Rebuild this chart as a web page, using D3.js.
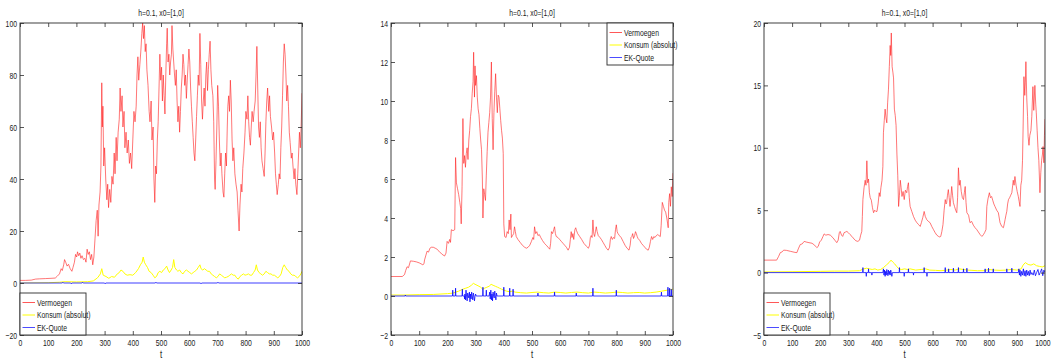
<!DOCTYPE html>
<html>
<head>
<meta charset="utf-8">
<script src="https://cdn.jsdelivr.net/npm/d3@7/dist/d3.min.js"></script>
<style>
  html, body { margin: 0; padding: 0; background: #fff; }
  svg { display: block; }
  text { font-family: "Liberation Sans", Arial, sans-serif; fill: #1a1a1a; }
</style>
</head>
<body>
<svg id="chart" width="1051" height="360"></svg>
<script>
// ---- data: [t, value] samples for each simulation run ----
const tickLabelsT = [0, 100, 200, 300, 400, 500, 600, 700, 800, 900, 1000];
const yTicks1 = [-20, 0, 20, 40, 60, 80, 100];
const yTicks2 = [-2, 0, 2, 4, 6, 8, 10, 12, 14];
const yTicks3 = [-5, 0, 5, 10, 15, 20];
const seriesNames = ["Vermoegen", "Konsum (absolut)", "EK-Quote"];
const titleText = "h=0.1, x0=[1,0]";

const wealth1 = [[0,1],[20,1],[40,1.1],[55,1.5],[70,1.6],[90,1.7],[110,1.8],[125,1.9],[132,2.6],[140,3.5],[146,5.5],[150,4.8],[155,7],[158,9],[162,8],[167,6.5],[172,7.2],[178,5.5],[184,4.5],[188,6],[193,8],[197,11],[201,10],[204,12],[208,10.5],[212,11.5],[216,9.5],[220,10.5],[225,9],[230,9.5],[234,8],[238,13],[242,11],[246,12],[250,9],[254,11],[258,7],[262,10],[266,17],[270,24],[274,28],[277,18],[280,30],[284,35],[287,45],[290,77],[292,60],[294,68],[297,45],[300,52],[304,40],[308,32],[311,38],[314,29],[318,36],[322,31],[326,41],[330,38],[334,50],[337,42],[341,56],[344,47],[348,58],[352,63],[355,75],[358,66],[362,72],[365,60],[369,66],[372,52],[376,58],[380,50],[384,55],[388,46],[392,50],[396,44],[400,55],[404,66],[408,62],[412,68],[415,80],[418,87],[421,78],[425,84],[429,90],[432,96],[435,100],[438,94],[441,99],[444,89],[447,92],[450,82],[454,76],[458,66],[461,62],[465,70],[468,55],[472,60],[475,40],[478,31],[481,45],[484,42],[487,55],[490,62],[493,75],[496,88],[499,78],[502,83],[505,70],[508,80],[511,72],[514,65],[517,80],[520,92],[522,98],[525,85],[528,88],[531,80],[534,85],[537,88],[539,99],[542,90],[545,85],[548,80],[551,76],[554,82],[557,70],[560,62],[563,68],[566,58],[569,66],[572,75],[575,80],[578,88],[581,84],[584,76],[587,80],[590,71],[593,78],[596,84],[599,90],[602,85],[605,75],[608,68],[611,62],[614,56],[617,50],[620,47],[623,55],[626,64],[629,72],[632,80],[635,76],[638,96],[641,84],[644,70],[647,63],[650,70],[653,75],[656,68],[659,80],[662,85],[665,74],[668,82],[671,88],[674,93],[677,82],[680,76],[684,72],[687,62],[690,40],[692,36],[695,47],[698,60],[701,76],[704,68],[707,55],[710,45],[713,50],[716,42],[720,35],[723,33],[726,42],[729,50],[732,45],[735,60],[737,68],[740,72],[743,66],[746,78],[749,70],[752,55],[755,47],[758,52],[762,42],[766,38],[770,35],[773,28],[777,20],[780,30],[784,38],[787,35],[790,44],[794,50],[798,58],[801,66],[805,63],[808,72],[811,62],[814,56],[817,53],[820,60],[823,66],[827,62],[830,66],[834,70],[837,80],[840,91],[843,75],[846,60],[849,56],[852,62],[855,52],[858,47],[862,44],[866,41],[869,50],[872,62],[875,70],[878,75],[882,66],[885,72],[888,64],[892,60],[896,55],[899,58],[903,50],[906,42],[909,38],[912,34],[916,38],[919,42],[922,40],[925,52],[928,60],[931,72],[934,85],[937,92],[940,88],[943,80],[946,70],[949,76],[952,68],[955,58],[958,54],[962,48],[965,50],[968,45],[972,40],[975,44],[978,38],[982,34],[985,42],[988,50],[991,58],[994,52],[997,60],[1000,73]];

const consumption1 = [[0,0],[100,0.1],[140,0.3],[160,0.5],[200,0.4],[240,0.5],[260,0.8],[275,2],[285,3.5],[290,5.5],[295,3],[305,2.5],[315,1.8],[325,2.5],[335,2.2],[345,3.5],[352,4],[358,5],[365,4.5],[372,3.5],[380,3],[390,3.2],[400,3],[410,4],[420,5.5],[427,7],[433,8],[437,10],[441,8],[446,7],[452,6],[458,4.5],[465,4],[472,3],[478,2],[484,2.5],[490,4],[496,4.5],[502,4],[508,5],[514,5.5],[520,6.5],[525,5],[530,4],[536,5],[541,6],[545,9],[549,6],[555,5],[560,4.5],[566,5],[572,4],[578,3.5],[584,4.5],[590,5],[596,4.5],[602,4],[608,3.5],[614,4],[620,4.5],[626,5],[632,6],[638,7],[642,5.5],[648,5],[654,5.5],[660,5],[666,4.5],[672,4.5],[678,3.5],[684,3],[690,2.5],[696,2],[702,2.5],[708,3.5],[714,3],[720,2.5],[726,2],[732,2.2],[738,2.5],[744,3],[750,3.5],[756,3],[762,3],[768,2],[774,1.5],[780,2.5],[786,3],[792,3.5],[798,3],[804,3.2],[810,3.5],[816,3],[822,3],[828,4],[834,5],[838,7],[842,5],[848,4],[854,3.5],[860,3],[866,3.5],[872,4.5],[878,4],[884,3.5],[890,3.5],[896,3],[902,3],[908,2.5],[914,2],[920,2.5],[926,3.5],[932,6],[937,7],[942,6],[948,5],[954,4.5],[960,3.5],[966,3],[972,3],[978,2.5],[984,2],[990,2.5],[996,3.5],[1000,4.5]];

const equity1 = [[0,0],[150,0],[152,0.3],[154,0],[180,0],[182,-0.3],[184,0],[220,0],[222,0.3],[224,0],[300,0],[302,-0.3],[304,0],[480,0],[482,0.3],[484,0],[640,0],[642,-0.3],[644,0],[700,0],[702,0.3],[704,0],[1000,0]];

const wealth2 = [[0,1],[40,1],[48,1.1],[52,1.3],[57,1.5],[62,1.45],[69,1.8],[80,1.78],[90,1.75],[100,1.7],[113,1.6],[117,1.65],[119,1.85],[124,2.1],[128,2.3],[133,2.25],[138,2.45],[143,2.5],[150,2.5],[157,2.45],[163,2.4],[170,2.3],[180,2.15],[190,2.05],[195,2.2],[199,2.8],[204,2.7],[208,2.9],[211,2.75],[214,3.4],[220,3.35],[226,3.4],[229,7.1],[232,5.8],[236,5.5],[240,5.2],[244,4.8],[247,4.5],[249,3.7],[252,5.6],[255,9.1],[258,6.8],[261,7.2],[264,6.6],[267,7.3],[270,7.6],[273,7.0],[276,8.0],[279,8.5],[282,9.2],[285,9.6],[288,10.4],[291,11],[293,12.5],[296,10.2],[298,11.8],[300,10.8],[303,11.3],[306,10.2],[309,9.6],[312,9.3],[315,8.6],[318,8],[321,7.5],[324,6],[326,4.0],[329,5.5],[332,5.2],[335,4.9],[338,6.2],[341,7.4],[344,8.4],[347,8.9],[350,9.4],[353,10.2],[356,12.0],[359,9.1],[362,7.5],[365,9.4],[368,10.5],[371,11.4],[374,10.2],[377,9.4],[380,10.3],[383,10.2],[386,9.6],[389,9.0],[392,8.5],[395,8.1],[398,7.3],[400,3.7],[403,3.05],[408,3.0],[412,3.3],[416,3.2],[419,3.9],[422,3.4],[425,4.2],[427,3.0],[431,3.1],[435,3.2],[438,3.55],[441,3.3],[444,3.05],[450,2.9],[458,2.75],[466,2.6],[474,2.5],[480,2.45],[486,2.5],[492,2.6],[498,2.8],[503,3.0],[506,2.9],[509,3.55],[513,3.2],[517,3.3],[521,3.1],[526,3.15],[531,3.0],[537,2.85],[544,2.7],[551,2.6],[557,2.5],[563,2.4],[566,2.7],[569,3.3],[573,3.2],[577,3.4],[580,3.55],[583,3.2],[586,3.05],[592,3.0],[598,2.9],[604,2.8],[610,2.7],[616,2.6],[622,2.5],[628,2.35],[633,2.5],[636,2.9],[639,3.3],[642,3.0],[645,3.2],[648,2.9],[652,3.4],[655,3.5],[658,3.35],[662,3.2],[669,3.05],[676,2.9],[684,2.7],[693,2.55],[700,2.45],[704,2.6],[707,3.0],[710,3.1],[713,3.0],[716,3.9],[719,3.2],[722,3.05],[725,3.3],[728,3.55],[731,3.3],[735,3.1],[741,3.0],[746,2.9],[752,2.75],[758,2.6],[764,2.45],[770,2.35],[775,2.5],[778,2.9],[781,3.05],[785,2.9],[789,3.0],[793,2.95],[796,3.4],[799,3.65],[802,3.3],[805,3.2],[810,3.1],[816,3.0],[823,2.8],[830,2.6],[837,2.45],[844,2.35],[848,2.6],[851,3.0],[854,3.05],[857,3.2],[860,2.95],[864,3.1],[867,3.3],[870,3.2],[873,3.05],[876,2.95],[882,2.85],[888,2.7],[894,2.6],[900,2.5],[906,2.4],[912,2.35],[916,2.5],[920,2.8],[924,3.05],[928,2.9],[932,3.05],[936,3.0],[941,3.1],[946,3.15],[950,3.1],[955,3.05],[958,3.6],[962,4.8],[966,4.6],[970,4.4],[974,4.3],[978,4.0],[981,3.7],[983,3.5],[985,4.8],[988,5.25],[991,4.6],[994,5.6],[997,5.1],[1000,6.3]];

const consumption2 = [[0,0.05],[50,0.05],[100,0.07],[150,0.08],[200,0.12],[220,0.15],[240,0.25],[255,0.35],[265,0.4],[275,0.45],[285,0.55],[292,0.65],[298,0.6],[305,0.55],[312,0.5],[318,0.45],[325,0.35],[332,0.4],[340,0.45],[348,0.5],[355,0.6],[362,0.55],[370,0.5],[378,0.45],[385,0.4],[392,0.35],[400,0.3],[410,0.25],[420,0.22],[430,0.25],[440,0.2],[460,0.17],[480,0.15],[500,0.18],[520,0.2],[540,0.17],[560,0.15],[580,0.2],[600,0.18],[620,0.15],[640,0.18],[660,0.2],[680,0.17],[700,0.15],[720,0.2],[740,0.18],[760,0.15],[780,0.17],[800,0.2],[820,0.18],[840,0.15],[860,0.17],[880,0.18],[900,0.15],[920,0.17],[940,0.2],[960,0.25],[980,0.3],[1000,0.35]];

const equity2 = [[0,0],[50,0],[51,0.05],[52,0],[218,0],[219,0.3],[220,0],[228,0],[229,0.4],[230,0],[252,0],[253,0.35],[254,0],[260,0],[261,-0.15],[262,0.1],[264,-0.2],[266,0.3],[268,0],[270,-0.25],[272,0.15],[274,0],[276,-0.1],[278,0.2],[280,-0.3],[282,0.1],[284,-0.15],[286,0.2],[288,0],[290,-0.2],[292,0.15],[294,0],[296,-0.25],[298,0],[300,0.1],[302,0],[325,0],[326,0.45],[327,0],[337,0],[338,0.3],[339,0],[348,0],[350,0.2],[352,-0.15],[354,0.3],[356,-0.2],[358,0.1],[360,-0.25],[362,0.2],[364,0],[366,-0.1],[368,0.25],[370,0],[372,-0.2],[374,0.15],[376,0],[399,0],[400,0.45],[401,0],[420,0],[421,0.4],[422,0],[432,0],[433,0.35],[434,0],[520,0],[521,0.15],[522,0],[579,0],[580,0.2],[581,0],[656,0],[657,0.15],[658,0],[715,0],[716,0.4],[717,0],[798,0],[799,0.3],[800,0],[958,0],[959,0.2],[960,0],[981,0],[982,0.45],[983,0],[987,0],[988,0.4],[989,0],[993,0],[994,0.35],[995,0],[1000,0]];

const wealth3 = [[0,1],[45,1],[52,1.3],[58,1.6],[64,1.65],[70,1.8],[80,1.78],[95,1.7],[110,1.62],[117,1.6],[122,1.9],[129,2.25],[136,2.3],[143,2.5],[150,2.45],[160,2.4],[171,2.35],[180,2.2],[188,2.0],[193,2.1],[198,2.45],[204,2.6],[210,2.9],[214,3.1],[220,3.0],[228,3.05],[236,3.0],[245,2.8],[252,2.6],[259,2.4],[264,2.6],[268,3.2],[271,3.3],[276,3.0],[280,2.9],[285,3.2],[290,3.25],[295,3.3],[300,3.2],[306,3.05],[313,2.9],[320,2.7],[327,2.55],[334,2.5],[340,2.6],[344,3.0],[348,3.3],[350,4.5],[352,5.85],[356,6.8],[360,7.4],[363,7.0],[366,8.96],[369,7.2],[372,7.5],[375,6.4],[378,6.0],[382,5.8],[386,5.2],[390,4.8],[394,5.0],[398,4.9],[402,4.9],[406,5.5],[410,6.4],[413,6.1],[416,6.8],[420,7.4],[423,8.5],[425,11.2],[428,12.2],[431,13.1],[434,12.4],[437,12.0],[440,13.6],[443,14.7],[446,16.5],[449,18.2],[451,17.4],[453,19.2],[456,16.5],[459,16.0],[461,15.6],[464,13.1],[467,12.6],[470,11.8],[473,9.5],[476,7.8],[479,5.3],[482,6.2],[485,7.4],[488,6.8],[491,6.1],[495,6.5],[499,5.85],[503,6.6],[508,6.4],[511,6.9],[514,7.2],[517,6.0],[520,5.3],[526,4.9],[532,4.5],[538,4.2],[544,4.0],[550,3.85],[556,3.7],[560,4.0],[565,4.4],[570,4.9],[574,4.5],[579,4.25],[585,4.1],[591,4.0],[597,3.7],[603,3.45],[609,3.2],[615,3.0],[621,2.9],[626,2.85],[629,2.9],[633,3.3],[637,3.85],[641,5.0],[645,5.85],[648,5.5],[650,5.6],[653,6.2],[656,6.65],[659,6.0],[662,5.3],[665,6.0],[668,6.9],[671,6.2],[674,5.6],[678,5.3],[682,5.0],[686,4.8],[689,6.0],[692,8.4],[695,7.0],[698,7.4],[702,6.5],[706,6.0],[710,5.85],[713,6.4],[716,6.9],[719,5.6],[722,4.8],[728,4.6],[733,4.0],[739,4.1],[745,3.8],[751,3.6],[757,3.45],[763,3.25],[769,3.05],[775,2.9],[778,2.95],[781,3.05],[785,3.2],[790,3.45],[793,5.3],[797,5.9],[802,6.4],[806,6.0],[810,6.1],[814,5.8],[818,5.5],[822,5.3],[828,5.0],[834,4.8],[840,4.0],[846,3.7],[852,3.6],[855,3.9],[858,4.25],[861,4.6],[864,4.9],[867,5.5],[870,5.85],[874,6.0],[878,6.2],[882,6.4],[885,7.0],[887,7.4],[890,7.0],[893,7.7],[897,7.0],[901,6.5],[905,6.1],[908,5.7],[911,5.3],[914,7.0],[917,7.4],[920,9.0],[922,11.5],[925,15.7],[928,14.2],[930,15.2],[932,16.9],[935,14.0],[938,12.5],[940,10.9],[943,10.2],[946,11.0],[950,11.4],[953,12.5],[957,14.9],[960,13.0],[964,15.0],[967,13.5],[969,12.8],[972,11.4],[975,10.0],[978,9.0],[982,6.4],[985,8.0],[988,9.0],[991,9.5],[993,10.1],[996,8.8],[998,11.0],[1000,12.3]];

const consumption3 = [[0,0.05],[100,0.07],[200,0.1],[250,0.12],[300,0.12],[340,0.15],[355,0.3],[365,0.35],[375,0.3],[385,0.25],[395,0.3],[405,0.2],[415,0.25],[425,0.4],[435,0.6],[445,0.8],[452,1.0],[458,0.85],[465,0.7],[472,0.5],[480,0.3],[490,0.25],[500,0.3],[510,0.25],[520,0.3],[540,0.2],[560,0.25],[575,0.3],[590,0.2],[610,0.18],[630,0.15],[650,0.2],[665,0.25],[680,0.2],[695,0.3],[710,0.25],[725,0.2],[740,0.18],[760,0.15],[780,0.15],[800,0.25],[820,0.2],[840,0.18],[860,0.2],[880,0.25],[900,0.2],[915,0.3],[922,0.6],[930,0.8],[940,0.65],[950,0.6],[960,0.7],[970,0.55],[980,0.5],[990,0.45],[1000,0.55]];

const equity3 = [[0,0],[351,0],[352,0.4],[353,0],[363,0],[364,-0.3],[365,0],[371,0],[372,0.3],[373,0],[383,0],[384,-0.2],[385,0],[423,0],[425,0.3],[427,-0.2],[429,0.2],[431,-0.3],[433,0.1],[435,-0.2],[437,0.25],[439,0],[441,-0.25],[443,0.2],[445,-0.15],[447,0.1],[449,-0.2],[451,0.2],[453,0],[455,-0.3],[457,0],[481,0],[482,0.4],[483,0],[498,0],[499,-0.3],[500,0],[513,0],[514,0.3],[515,0],[531,0],[532,-0.2],[533,0],[569,0],[570,0.4],[571,0],[579,0],[580,-0.3],[581,0],[644,0],[645,0.4],[646,0],[656,0],[657,0.3],[658,0],[673,0],[674,0.35],[675,0],[691,0],[692,0.4],[693,0],[709,0],[710,0.3],[711,0],[721,0],[722,0.35],[723,0],[786,0],[787,0.3],[788,0],[798,0],[799,0.35],[800,0],[815,0],[816,0.3],[817,0],[863,0],[864,0.3],[865,0],[881,0],[882,0.35],[883,0],[905,0],[907,0.3],[909,-0.2],[911,0.2],[914,-0.3],[917,0.1],[920,-0.2],[923,0.3],[926,-0.25],[929,0.15],[932,-0.3],[935,0.2],[938,-0.2],[941,0.1],[944,-0.25],[947,0.2],[950,-0.15],[953,0],[958,-0.2],[962,0.2],[966,-0.25],[970,0],[975,0.25],[979,-0.2],[983,0],[988,0.3],[992,-0.25],[996,0.2],[1000,0]];

// ---- layout ----
const svg = d3.select("#chart");
const squeeze = 0.72;           // horizontal squeeze applied to all labels
const colors = ["#ff2020", "#ffff00", "#0000ff"];
const widths = [0.85, 1, 0.9];
const opacities = [0.72, 1, 0.85];

const panels = [
  { left: 20,  right: 302,  yDomain: [-20, 100], yTicks: yTicks1, data: [wealth1, consumption1, equity1], legend: "bottomLeft" },
  { left: 391, right: 673,  yDomain: [-2, 14],   yTicks: yTicks2, data: [wealth2, consumption2, equity2], legend: "topRight" },
  { left: 764, right: 1045, yDomain: [-5, 20],   yTicks: yTicks3, data: [wealth3, consumption3, equity3], legend: "bottomLeft" }
];
const plotTop = 23, plotBottom = 335;
const axisColor = "#2b2b2b";
const svgWidth = 1051;

panels.forEach((p, i) => {
  const x = d3.scaleLinear().domain([0, 1000]).range([p.left, p.right]);
  const y = d3.scaleLinear().domain(p.yDomain).range([plotBottom, plotTop]);
  const g = svg.append("g");

  const clipId = "clip" + i;
  g.append("clipPath").attr("id", clipId)
    .append("rect").attr("x", p.left).attr("y", plotTop)
    .attr("width", p.right - p.left).attr("height", plotBottom - plotTop);

  // series
  const line = d3.line().x(d => x(d[0])).y(d => y(d[1]));
  const plot = g.append("g").attr("clip-path", `url(#${clipId})`);
  p.data.forEach((series, k) => {
    plot.append("path")
      .datum(series)
      .attr("d", line)
      .attr("fill", "none")
      .attr("stroke", colors[k])
      .attr("stroke-width", widths[k])
      .attr("stroke-opacity", opacities[k])
      .attr("stroke-linejoin", "miter");
  });

  // axes: ticks point inward, on all four sides
  const tickLen = 4;
  const styleAxis = sel => {
    sel.select(".domain").remove();
    sel.selectAll("line").attr("stroke", axisColor).attr("stroke-width", 0.8);
    sel.selectAll("text").style("font-size", "9.5px").attr("fill", "#1a1a1a");
  };

  const xb = g.append("g").attr("transform", `translate(0,${plotBottom})`)
    .call(d3.axisBottom(x).tickValues(tickLabelsT).tickSize(-tickLen).tickPadding(4).tickFormat(d3.format("d")))
    .call(styleAxis);
  xb.selectAll("text").attr("transform", `scale(${squeeze},1)`);
  // keep the last label inside the page when the axis ends at the page edge
  xb.selectAll("text").filter(d => d === 1000 && p.right + 8 > svgWidth)
    .attr("text-anchor", "end").attr("x", (svgWidth - 1 - p.right) / squeeze);

  g.append("g").attr("transform", `translate(0,${plotTop})`)
    .call(d3.axisTop(x).tickValues(tickLabelsT).tickSize(-tickLen).tickFormat(""))
    .call(styleAxis);

  const yl = g.append("g").attr("transform", `translate(${p.left},0)`)
    .call(d3.axisLeft(y).tickValues(p.yTicks).tickSize(-tickLen).tickPadding(2).tickFormat(d3.format("d")))
    .call(styleAxis);
  yl.selectAll("text").attr("transform", `scale(${squeeze},1)`).attr("x", -3 / squeeze);

  g.append("g").attr("transform", `translate(${p.right},0)`)
    .call(d3.axisRight(y).tickValues(p.yTicks).tickSize(-tickLen).tickFormat(""))
    .call(styleAxis);

  // frame
  g.append("rect")
    .attr("x", p.left).attr("y", plotTop)
    .attr("width", p.right - p.left).attr("height", plotBottom - plotTop)
    .attr("fill", "none").attr("stroke", axisColor).attr("stroke-width", 0.9);

  // title and x label
  const cx = (p.left + p.right) / 2;
  g.append("text")
    .attr("transform", `translate(${cx},16) scale(${squeeze},1)`)
    .attr("text-anchor", "middle").style("font-size", "9.5px")
    .text(titleText);
  g.append("text")
    .attr("transform", `translate(${cx},358) scale(${squeeze},1)`)
    .attr("text-anchor", "middle").style("font-size", "11px")
    .text("t");

  // legend
  const lw = 66, lh = 42;
  const lx = p.legend === "topRight" ? p.right - lw : p.left;
  const ly = p.legend === "topRight" ? plotTop : plotBottom - lh;
  const lg = g.append("g").attr("transform", `translate(${lx},${ly})`);
  lg.append("rect").attr("width", lw).attr("height", lh)
    .attr("fill", "#fff").attr("stroke", axisColor).attr("stroke-width", 0.9);
  seriesNames.forEach((name, k) => {
    const ry = 9.5 + k * 12.5;
    lg.append("line").attr("x1", 2.5).attr("x2", 15).attr("y1", ry).attr("y2", ry)
      .attr("stroke", colors[k]).attr("stroke-width", 1)
      .attr("stroke-opacity", k === 0 ? 0.75 : (k === 2 ? 0.7 : 1));
    lg.append("text")
      .attr("transform", `translate(17,${ry + 3.3}) scale(${squeeze},1)`)
      .style("font-size", "9.5px")
      .text(name);
  });
});
</script>
</body>
</html>
